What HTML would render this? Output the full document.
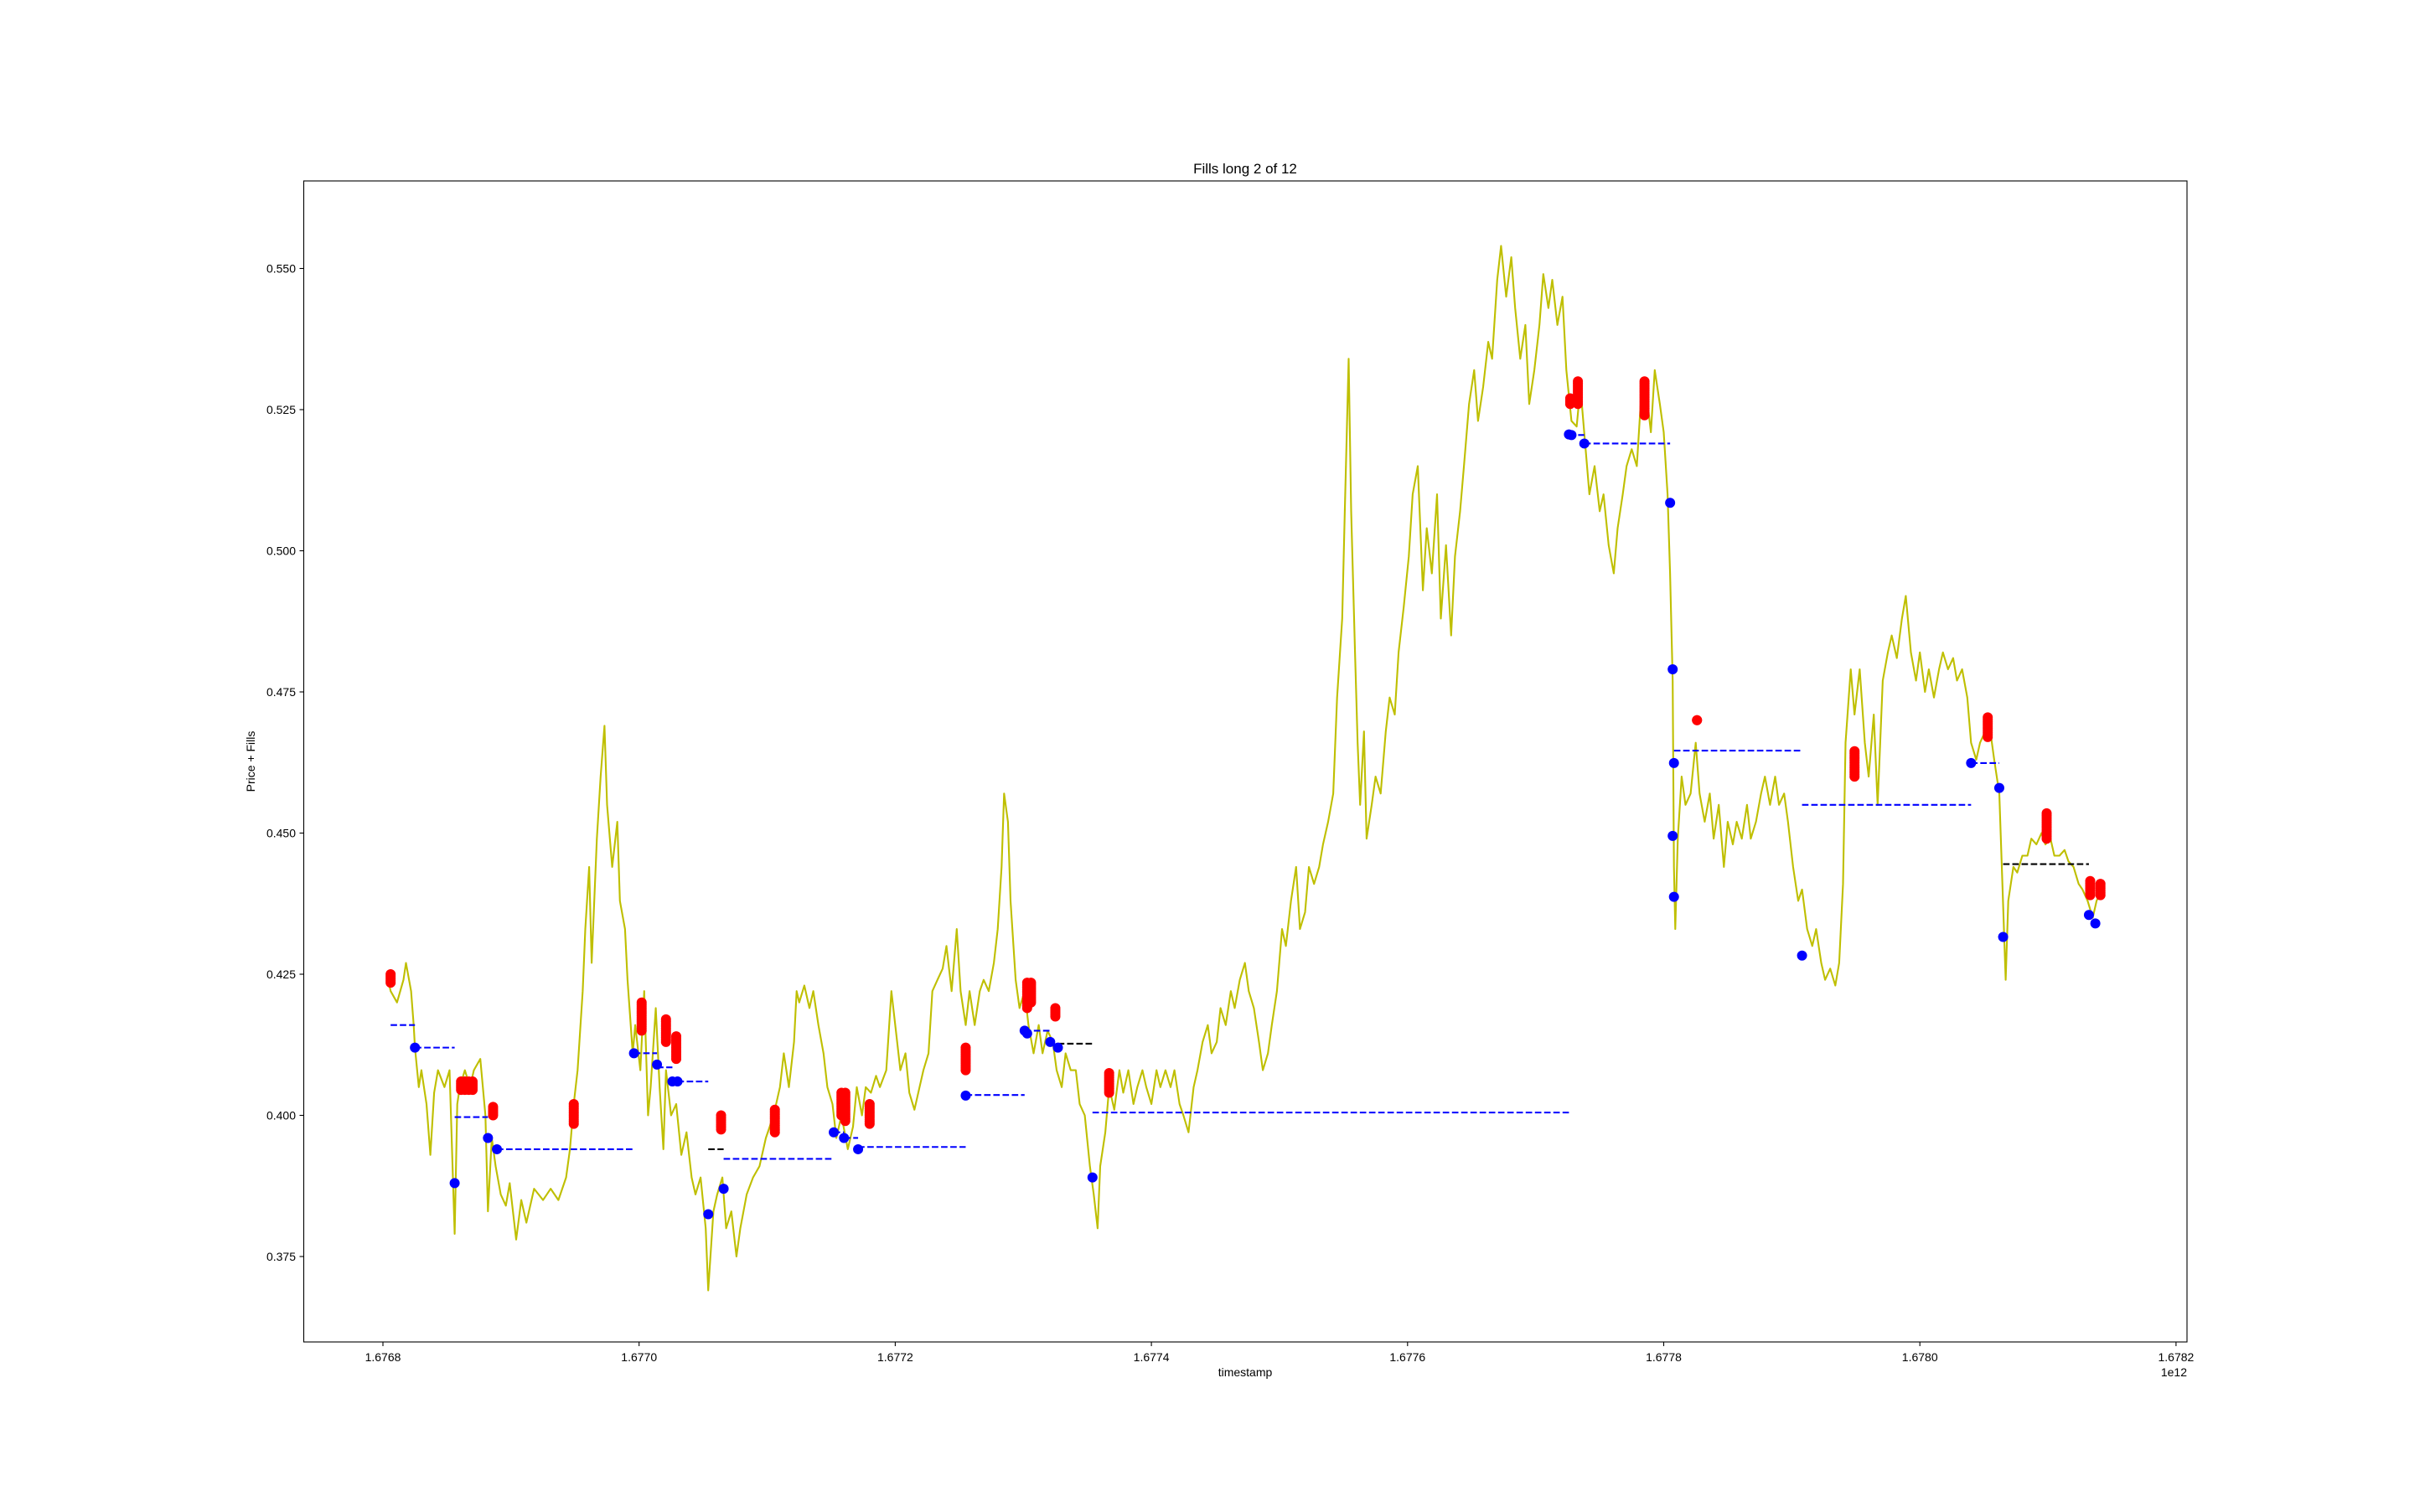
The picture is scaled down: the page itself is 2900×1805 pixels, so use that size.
<!DOCTYPE html>
<html><head><meta charset="utf-8"><style>
html,body{margin:0;padding:0;background:#fff;}
svg text{font-family:"Liberation Sans","DejaVu Sans",sans-serif;fill:#000;}
</style></head><body>
<svg id="chart" width="2900" height="1800" viewBox="0 0 2900 1800" xmlns="http://www.w3.org/2000/svg">
<rect x="0" y="0" width="2900" height="1800" fill="#fff"/>
<text x="1486" y="207" font-size="17" text-anchor="middle">Fills long 2 of 12</text>
<text x="1486" y="1643" font-size="14" text-anchor="middle">timestamp</text>
<text x="2610" y="1643" font-size="14" text-anchor="end">1e12</text>
<text transform="translate(304,909) rotate(-90)" font-size="14" text-anchor="middle">Price + Fills</text>
<g id="plot"></g>
<rect x="362.5" y="216" width="2247.5" height="1386" fill="none" stroke="#000" stroke-width="1.1"/>
</svg>
<script>
const priceX=[0.04,0.06,0.11,0.16,0.18,0.22,0.24,0.25,0.28,0.30,0.34,0.37,0.40,0.43,0.48,0.52,0.56,0.58,0.60,0.64,0.68,0.71,0.76,0.80,0.82,0.85,0.88,0.92,0.96,0.99,1.04,1.08,1.12,1.18,1.25,1.31,1.37,1.43,1.46,1.49,1.52,1.56,1.58,1.61,1.63,1.67,1.70,1.73,1.75,1.79,1.83,1.85,1.89,1.91,1.95,1.97,2.01,2.04,2.07,2.09,2.13,2.16,2.19,2.21,2.25,2.29,2.33,2.37,2.41,2.44,2.48,2.52,2.54,2.58,2.61,2.65,2.68,2.72,2.76,2.79,2.84,2.89,2.94,2.99,3.02,3.06,3.10,3.13,3.17,3.21,3.23,3.25,3.29,3.33,3.36,3.40,3.44,3.47,3.51,3.54,3.58,3.63,3.67,3.70,3.74,3.77,3.81,3.85,3.88,3.93,3.97,4.00,4.04,4.08,4.11,4.15,4.19,4.22,4.26,4.29,4.33,4.37,4.40,4.44,4.48,4.51,4.55,4.58,4.62,4.66,4.69,4.73,4.77,4.80,4.83,4.85,4.88,4.90,4.94,4.97,5.01,5.04,5.08,5.12,5.15,5.19,5.23,5.26,5.30,5.33,5.37,5.41,5.44,5.48,5.52,5.55,5.58,5.60,5.64,5.67,5.71,5.75,5.78,5.82,5.86,5.89,5.93,5.96,6.00,6.04,6.07,6.11,6.15,6.18,6.22,6.25,6.29,6.33,6.36,6.40,6.44,6.47,6.51,6.54,6.58,6.62,6.65,6.69,6.73,6.76,6.80,6.84,6.87,6.91,6.94,6.98,7.02,7.05,7.09,7.13,7.16,7.20,7.23,7.27,7.31,7.34,7.38,7.42,7.45,7.49,7.51,7.54,7.56,7.59,7.61,7.63,7.66,7.68,7.72,7.75,7.79,7.83,7.86,7.90,7.93,7.97,8.01,8.04,8.08,8.12,8.15,8.19,8.23,8.26,8.30,8.34,8.37,8.41,8.44,8.48,8.52,8.55,8.59,8.63,8.66,8.70,8.73,8.77,8.81,8.84,8.88,8.92,8.95,8.99,9.03,9.06,9.10,9.13,9.17,9.21,9.24,9.28,9.32,9.35,9.39,9.42,9.46,9.50,9.53,9.57,9.61,9.64,9.68,9.71,9.75,9.79,9.82,9.86,9.90,9.93,9.97,10.00,10.03,10.05,10.07,10.08,10.09,10.11,10.14,10.17,10.21,10.25,10.28,10.32,10.36,10.39,10.43,10.47,10.50,10.54,10.57,10.61,10.65,10.68,10.72,10.76,10.79,10.83,10.87,10.90,10.94,10.97,11.01,11.05,11.08,11.12,11.16,11.19,11.23,11.26,11.30,11.34,11.37,11.40,11.42,11.46,11.49,11.53,11.57,11.60,11.64,11.67,11.71,11.75,11.78,11.82,11.86,11.89,11.93,11.97,12.00,12.04,12.07,12.11,12.15,12.18,12.22,12.26,12.29,12.33,12.37,12.40,12.44,12.47,12.51,12.55,12.58,12.62,12.64,12.67,12.69,12.73,12.76,12.80,12.84,12.87,12.91,12.95,12.98,13.02,13.05,13.09,13.13,13.16,13.20,13.24,13.27,13.31,13.35,13.38,13.42];
const priceY=[.424,.422,.420,.424,.427,.422,.416,.412,.405,.408,.402,.393,.404,.408,.405,.408,.379,.402,.405,.408,.405,.408,.410,.400,.383,.396,.391,.386,.384,.388,.378,.385,.381,.387,.385,.387,.385,.389,.394,.402,.408,.422,.433,.444,.427,.449,.460,.469,.455,.444,.452,.438,.433,.424,.411,.416,.408,.422,.400,.405,.419,.405,.394,.408,.400,.402,.393,.397,.389,.386,.389,.380,.369,.383,.386,.389,.380,.383,.375,.380,.386,.389,.391,.396,.398,.401,.405,.411,.405,.413,.422,.420,.423,.419,.422,.416,.411,.405,.402,.396,.400,.394,.398,.405,.400,.405,.404,.407,.405,.408,.422,.416,.408,.411,.404,.401,.405,.408,.411,.422,.424,.426,.430,.422,.433,.422,.416,.422,.416,.422,.424,.422,.427,.433,.444,.457,.452,.438,.424,.419,.422,.416,.411,.416,.411,.415,.413,.408,.405,.411,.408,.408,.402,.400,.391,.386,.380,.391,.397,.405,.401,.408,.404,.408,.402,.405,.408,.405,.402,.408,.405,.408,.405,.408,.402,.400,.397,.405,.408,.413,.416,.411,.413,.419,.416,.422,.419,.424,.427,.422,.419,.413,.408,.411,.416,.422,.433,.430,.438,.444,.433,.436,.444,.441,.444,.448,.452,.457,.474,.488,.507,.534,.507,.482,.466,.455,.468,.449,.455,.460,.457,.468,.474,.471,.482,.490,.499,.510,.515,.493,.504,.496,.510,.488,.501,.485,.499,.507,.515,.526,.532,.523,.529,.537,.534,.548,.554,.545,.552,.543,.534,.540,.526,.532,.540,.549,.543,.548,.540,.545,.532,.523,.522,.529,.518,.510,.515,.507,.510,.501,.496,.504,.510,.515,.518,.515,.526,.529,.521,.532,.526,.521,.510,.496,.477,.444,.433,.449,.460,.455,.457,.466,.457,.452,.457,.449,.455,.444,.452,.448,.452,.449,.455,.449,.452,.457,.460,.455,.460,.455,.457,.452,.444,.438,.440,.433,.430,.433,.427,.424,.426,.423,.427,.441,.466,.479,.471,.479,.466,.460,.471,.455,.477,.482,.485,.481,.488,.492,.482,.477,.482,.475,.479,.474,.479,.482,.479,.481,.477,.479,.474,.466,.463,.466,.468,.468,.463,.457,.444,.424,.438,.444,.443,.446,.446,.449,.448,.450,.448,.449,.446,.446,.447,.445,.444,.441,.440,.438,.435,.438,.440];
const blueX=[.25,.56,.82,.89,1.96,2.14,2.26,2.30,2.54,2.66,3.52,3.60,3.71,4.55,5.01,5.03,5.21,5.27,5.54,9.26,9.28,9.38,10.05,10.07,10.08,10.07,10.08,11.08,12.40,12.62,12.65,13.32,13.37];
const blueY=[.412,.388,.396,.394,.411,.409,.406,.406,.3825,.387,.397,.396,.394,.4035,.415,.4145,.413,.412,.389,.5206,.5205,.519,.5085,.479,.4624,.4495,.4387,.4283,.4624,.458,.4316,.4355,.434];
const levelStart=[.06,.25,.56,.89,1.96,2.14,2.30,2.54,2.66,3.52,3.60,3.71,4.55,5.01,5.27,5.54,9.26,9.38,10.08,11.08,12.40,12.65];
const levelEnd=[.25,.56,.82,1.96,2.14,2.26,2.54,2.66,3.52,3.60,3.71,4.55,5.01,5.21,5.54,9.26,9.38,10.05,11.08,12.40,12.62,13.32];
const levelPrice=[.416,.412,.3997,.394,.411,.4085,.406,.394,.3923,.397,.396,.3944,.4036,.415,.4127,.4005,.5205,.519,.4646,.455,.4624,.4445];
const levelColor=["b","b","b","b","b","b","b","k","b","b","b","b","b","b","k","b","b","b","b","b","b","k"];
const redX=[.06,.61,.64,.67,.70,.86,1.49,2.02,2.21,2.29,2.64,3.06,3.58,3.61,3.80,4.55,5.03,5.06,5.25,5.67,9.27,9.33,9.85,10.26,11.49,12.53,12.99,13.33,13.41];
const redLow=[.4235,.4045,.4045,.4045,.4045,.400,.3985,.415,.413,.410,.3975,.397,.400,.399,.3985,.408,.419,.420,.4175,.404,.526,.526,.524,.470,.460,.467,.449,.439,.439];
const redHigh=[.425,.406,.406,.406,.406,.4015,.402,.420,.417,.414,.400,.401,.404,.404,.402,.412,.4235,.4235,.419,.4075,.527,.530,.530,.470,.4645,.4705,.4535,.4415,.441];
const xTicks=[0,2,4,6,8,10,12,14];
const xTickLabels=["1.6768","1.6770","1.6772","1.6774","1.6776","1.6778","1.6780","1.6782"];
const yTicks=[0.375,0.400,0.425,0.450,0.475,0.500,0.525,0.550];
const yTickLabels=["0.375","0.400","0.425","0.450","0.475","0.500","0.525","0.550"];

const NS="http://www.w3.org/2000/svg";
function X(v){return 457+v*152.85;}
function Y(p){return 320.5+(0.550-p)/0.025*168.5;}
const plot=document.getElementById('plot');
function mk(tag,attrs){const e=document.createElementNS(NS,tag);for(const k in attrs)e.setAttribute(k,attrs[k]);plot.appendChild(e);return e;}

// ticks
xTicks.forEach((t,i)=>{
  const l=mk('line',{x1:X(t),x2:X(t),y1:1602,y2:1607,stroke:'#000','stroke-width':1.1});
  
  
  const tx=mk('text',{x:X(t),y:1625,'font-size':14,'text-anchor':'middle'});
  tx.textContent=xTickLabels[i];
  
  
});
yTicks.forEach((p,i)=>{
  const l=mk('line',{x1:357.5,x2:362.5,y1:Y(p),y2:Y(p),stroke:'#000','stroke-width':1.1});
  
  
  const tx=mk('text',{x:353,y:Y(p)+5,'font-size':14,'text-anchor':'end'});
  tx.textContent=yTickLabels[i];
  
  
});

// price line
let d='';
priceX.forEach((v,i)=>{d+=(i?'L':'M')+X(v).toFixed(1)+' '+Y(priceY[i]).toFixed(1);});
const pl=mk('path',{d:d,fill:'none',stroke:'#bfbf00','stroke-width':2.1,'stroke-linejoin':'round'});



// levels
levelStart.forEach((s,i)=>{
  const l=mk('line',{x1:X(s),x2:X(levelEnd[i]),y1:Y(levelPrice[i]),y2:Y(levelPrice[i]),stroke:levelColor[i]==='k'?'#000':'#0000ff','stroke-width':2.1,'stroke-dasharray':'7.7,3.3'});
  
  
});

// red fills
redX.forEach((x,i)=>{
  const lo=redLow[i],hi=redHigh[i];
  const n=Math.max(1,Math.round((hi-lo)/0.0004));
  for(let k=0;k<=n;k++){
    const p=lo+(hi-lo)*k/n;
    const c=mk('circle',{cx:X(x),cy:Y(p),r:6,fill:'#ff0000'});
    
    
  }
});

// blue fills
blueX.forEach((x,i)=>{
  const c=mk('circle',{cx:X(x),cy:Y(blueY[i]),r:6,fill:'#0000ff'});
  
  
});
</script>
</body></html>
